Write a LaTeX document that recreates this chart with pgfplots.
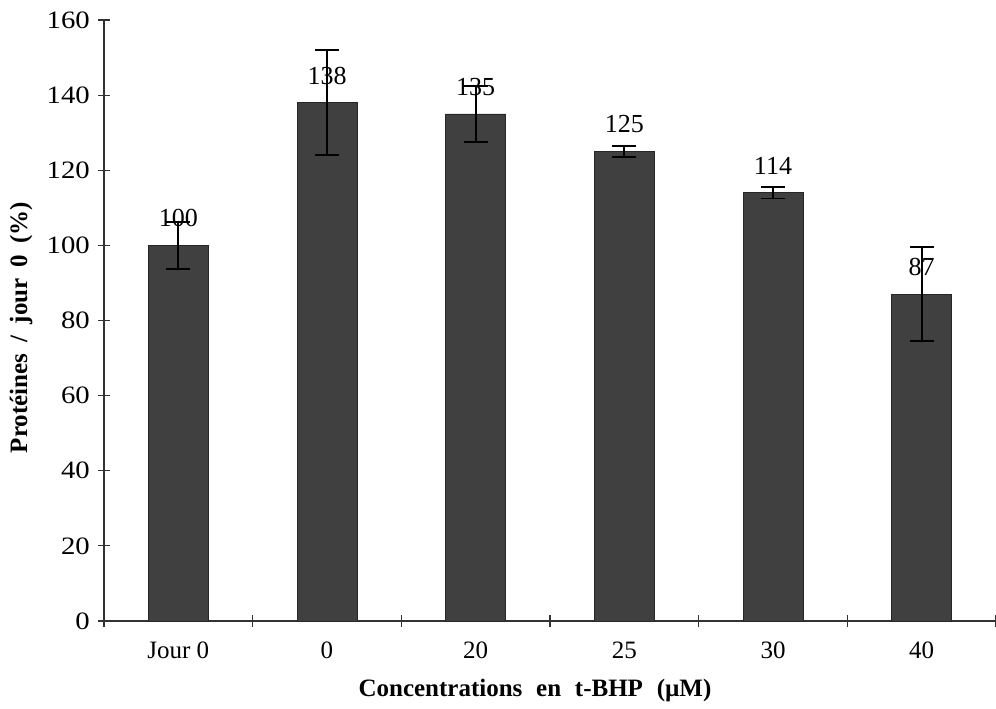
\documentclass[border=0pt]{standalone}
\usepackage{pgfplots}
\pgfplotsset{compat=1.18}
\usepackage{fontspec}
\setmainfont{Liberation Serif}

\definecolor{barfill}{RGB}{64,64,64}

\pgfplotstableread{
idx val err
0 100 6.3
1 138 14
2 135 7.5
3 125 1.4
4 114 1.5
5 87 12.5
}\proteines

\begin{document}
\begin{tikzpicture}
\path[use as bounding box] (-52pt,-43.5pt) rectangle (446pt,310.5pt);
\begin{axis}[
  at={(0,0)}, anchor=south west,
  scale only axis, width=446pt, height=300.5pt,
  xmin=-0.5, xmax=5.5, ymin=0, ymax=160,
  axis lines=left, axis line style={-, black!80, line width=0.6pt},
  xtick={0,...,5},
  xticklabels={Jour 0,0,20,25,30,40},
  major x tick style={draw=none},
  minor xtick={-0.5,0.5,1.5,2.5,3.5,4.5,5.5},
  minor tick length=6pt,
  ytick={0,20,...,160},
  major tick length=6pt,
  tick align=center,
  tick style={black!80, line width=0.6pt},
  /pgf/number format/assume math mode=true,
  yticklabel style={font=\fontsize{12.5}{14}\selectfont, xscale=1.15},
  xticklabel style={font=\fontsize{12.5}{14}\selectfont, yshift=-4pt},
  xlabel={\bfseries Concentrations\hspace{0.3em} en\hspace{0.3em} t-BHP\hspace{0.3em} (µM)},
  ylabel={\bfseries Protéines\hspace{0.2em} /\hspace{0.2em} jour\hspace{0.2em} 0\hspace{0.2em} (\%)},
  xlabel style={font=\fontsize{12.5}{14}\selectfont, at={(axis description cs:0.5,-0.115)}, anchor=center, xshift=-7.5pt},
  ylabel style={font=\fontsize{12.5}{14}\selectfont, at={(axis description cs:-0.093,0.5)}, anchor=center, yshift=0pt, xshift=-3.5pt},
  clip=false,
]
\addplot[ybar, bar width=30pt, fill=barfill, draw=black!85,
  error bars/.cd, y dir=both, y explicit,
  error mark options={rotate=90, black, mark size=6pt, line width=0.9pt},
  error bar style={black, line width=0.9pt}]
  table[x=idx, y=val, y error=err] {\proteines};
\addplot[ybar, bar width=30pt, draw=none, fill=none,
  nodes near coords,
  nodes near coords style={font=\fontsize{13}{15}\selectfont, anchor=center, yshift=13.5pt, /pgf/number format/assume math mode=true}]
  table[x=idx, y=val] {\proteines};
\end{axis}
\end{tikzpicture}
\end{document}
